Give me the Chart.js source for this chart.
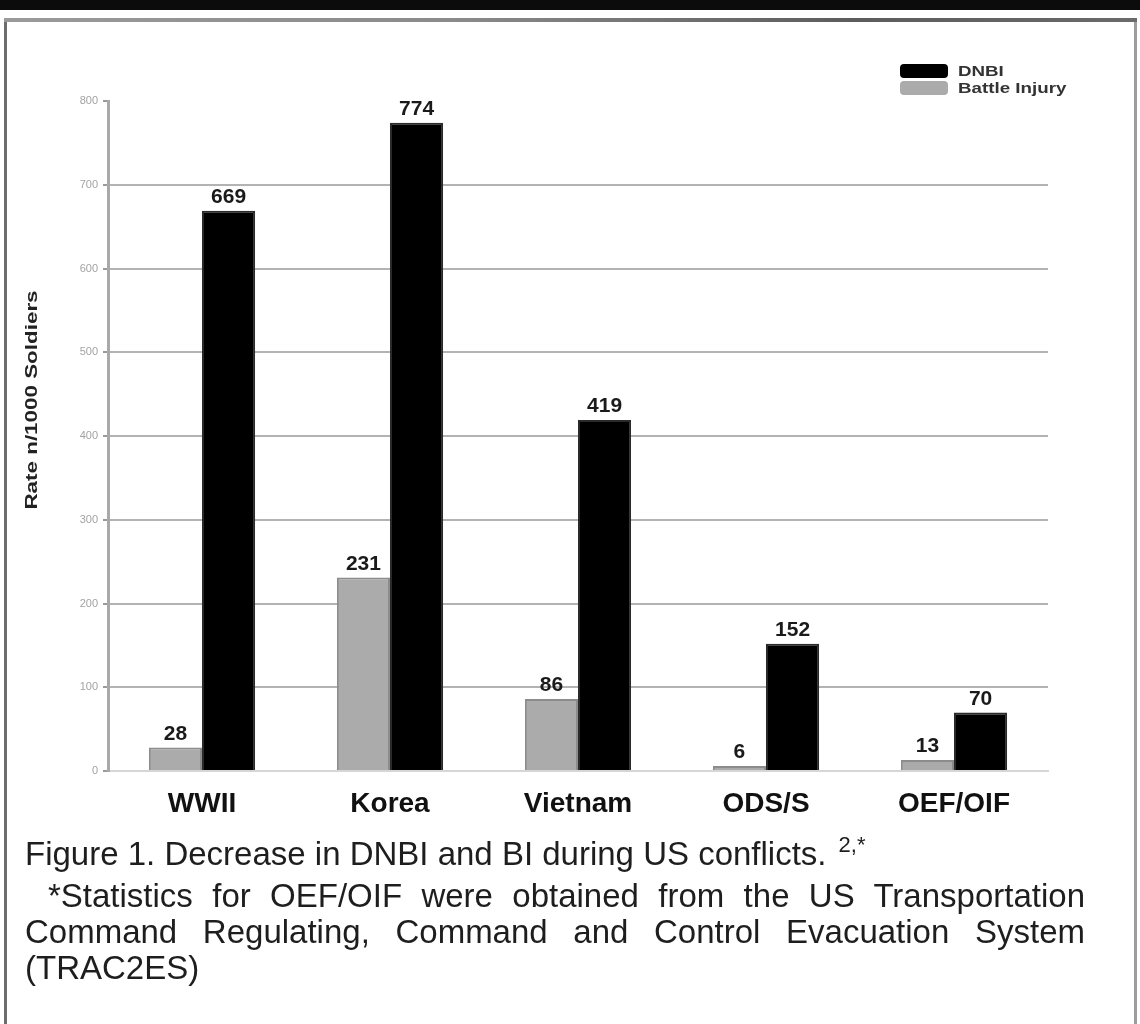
<!DOCTYPE html>
<html>
<head>
<meta charset="utf-8">
<script src="https://cdn.jsdelivr.net/npm/chart.js@4/dist/chart.umd.min.js"></script>
<style>
  html, body { margin: 0; padding: 0; background: #fff; width: 1140px; height: 1024px; overflow: hidden; }
  #topbar { position: absolute; left: 0; top: 0; width: 1140px; height: 10px; background: #0c0c0c; }
  #frame { position: absolute; left: 4px; top: 19px; width: 1127px; height: 1100px;
           border-left: 3px solid #6d6d6d; border-right: 3px solid #9c9c9c; }
  #frameTop { position: absolute; left: 4px; top: 18px; width: 1133px; height: 4px;
              background: linear-gradient(to right, #9a9a9a, #8a8a8a 40%, #5c5c5c 75%, #6a6a6a); }
  #chart { position: absolute; left: 0; top: 0; }
  #caption { position: absolute; left: 25px; top: 836px; width: 1060px;
             font-family: "Liberation Sans", Arial, sans-serif; font-size: 33px; line-height: 36px; color: #1e1e1e; }
  #caption div { white-space: nowrap; }
  #caption .first { margin-bottom: 6px; }
  #caption .just { text-align: justify; text-align-last: justify; white-space: normal; }
  #caption sup { font-size: 22px; vertical-align: 13px; line-height: 0; margin-left: 12px; }
</style>
</head>
<body>
<div id="topbar"></div>
<div id="frame"></div>
<div id="frameTop"></div>
<canvas id="chart" width="1140" height="840"></canvas>
<div id="caption">
  <div class="first">Figure 1. Decrease in DNBI and BI during US conflicts.<sup>2,*</sup></div>
  <div class="just" style="padding-left:23px">*Statistics for OEF/OIF were obtained from the US Transportation</div>
  <div class="just">Command Regulating, Command and Control Evacuation System</div>
  <div>(TRAC2ES)</div>
</div>
<script>
// Conflicts and rates per 1000 soldiers
const conflicts = ['WWII', 'Korea', 'Vietnam', 'ODS/S', 'OEF/OIF'];
const battleInjury = [28, 231, 86, 6, 13];
const dnbi = [669, 774, 419, 152, 70];
const yTicks = [0, 100, 200, 300, 400, 500, 600, 700, 800];
const yTitle = 'Rate n/1000 Soldiers';

// value labels above each bar
const valueLabels = {
  id: 'valueLabels',
  afterDatasetsDraw(chart) {
    const ctx = chart.ctx;
    ctx.save();
    ctx.font = 'bold 21px "Liberation Sans", Arial, sans-serif';
    ctx.fillStyle = '#1a1a1a';
    ctx.textAlign = 'center';
    ctx.textBaseline = 'bottom';
    chart.data.datasets.forEach((ds, i) => {
      chart.getDatasetMeta(i).data.forEach((el, j) => {
        ctx.fillText(String(ds.data[j]), el.x, el.y - 3);
      });
    });
    ctx.restore();
  }
};

// legend in the top right corner, DNBI first
const cornerLegend = {
  id: 'cornerLegend',
  afterDraw(chart) {
    const ctx = chart.ctx;
    const items = chart.data.datasets.slice().reverse();
    ctx.save();
    items.forEach((ds, k) => {
      const cy = 71 + k * 17;
      ctx.fillStyle = ds.backgroundColor;
      ctx.beginPath();
      ctx.roundRect(900, cy - 7, 48, 14, 4);
      ctx.fill();
      ctx.save();
      ctx.translate(958, cy);
      ctx.scale(1.25, 1);
      ctx.font = 'bold 15px "Liberation Sans", Arial, sans-serif';
      ctx.fillStyle = '#333';
      ctx.textBaseline = 'middle';
      ctx.fillText(ds.label, 0, 1);
      ctx.restore();
    });
    ctx.restore();
  }
};

// rotated value-axis title
const sideTitle = {
  id: 'sideTitle',
  afterDraw(chart) {
    const ctx = chart.ctx;
    ctx.save();
    ctx.translate(33, 400);
    ctx.rotate(-Math.PI / 2);
    ctx.scale(1.4, 1);
    ctx.font = 'bold 16px "Liberation Sans", Arial, sans-serif';
    ctx.fillStyle = '#222';
    ctx.textAlign = 'center';
    ctx.textBaseline = 'middle';
    ctx.fillText(yTitle, 0, 0);
    ctx.restore();
  }
};

new Chart(document.getElementById('chart'), {
  type: 'bar',
  data: {
    labels: conflicts,
    datasets: [
      { label: 'Battle Injury', data: battleInjury, backgroundColor: '#ababab', borderColor: '#8c8c8c', borderWidth: 2 },
      { label: 'DNBI', data: dnbi, backgroundColor: '#000000', borderColor: '#2a2a2a', borderWidth: 2 }
    ]
  },
  options: {
    responsive: false,
    animation: false,
    devicePixelRatio: 1,
    layout: { padding: { left: 0, top: 101, right: 92, bottom: 0 } },
    datasets: { bar: { categoryPercentage: 0.565, barPercentage: 1.0 } },
    plugins: { legend: { display: false }, tooltip: { enabled: false } },
    scales: {
      x: {
        grid: { display: false, drawTicks: false },
        border: { color: '#d6d6d6', width: 2 },
        ticks: { font: { family: '"Liberation Sans", Arial, sans-serif', size: 28, weight: 'bold' }, color: '#111', padding: 16 },
        afterFit(scale) { scale.height = 69; }
      },
      y: {
        min: 0,
        max: 800,
        afterBuildTicks(scale) { scale.ticks = yTicks.map(v => ({ value: v })); },
        grid: {
          color: (c) => c.tick && c.tick.value === 800 ? 'rgba(0,0,0,0)' : (c.tick && c.tick.value === 0 ? '#d6d6d6' : '#b3b3b3'),
          lineWidth: 2,
          tickLength: 5,
          tickColor: '#9a9a9a',
          tickWidth: 2
        },
        border: { color: '#a9a9a9', width: 3 },
        ticks: { font: { family: '"Liberation Sans", Arial, sans-serif', size: 11 }, color: '#a3a3a3', padding: 5 },
        afterFit(scale) { scale.width = 108; }
      }
    }
  },
  plugins: [valueLabels, cornerLegend, sideTitle]
});
</script>
</body>
</html>
